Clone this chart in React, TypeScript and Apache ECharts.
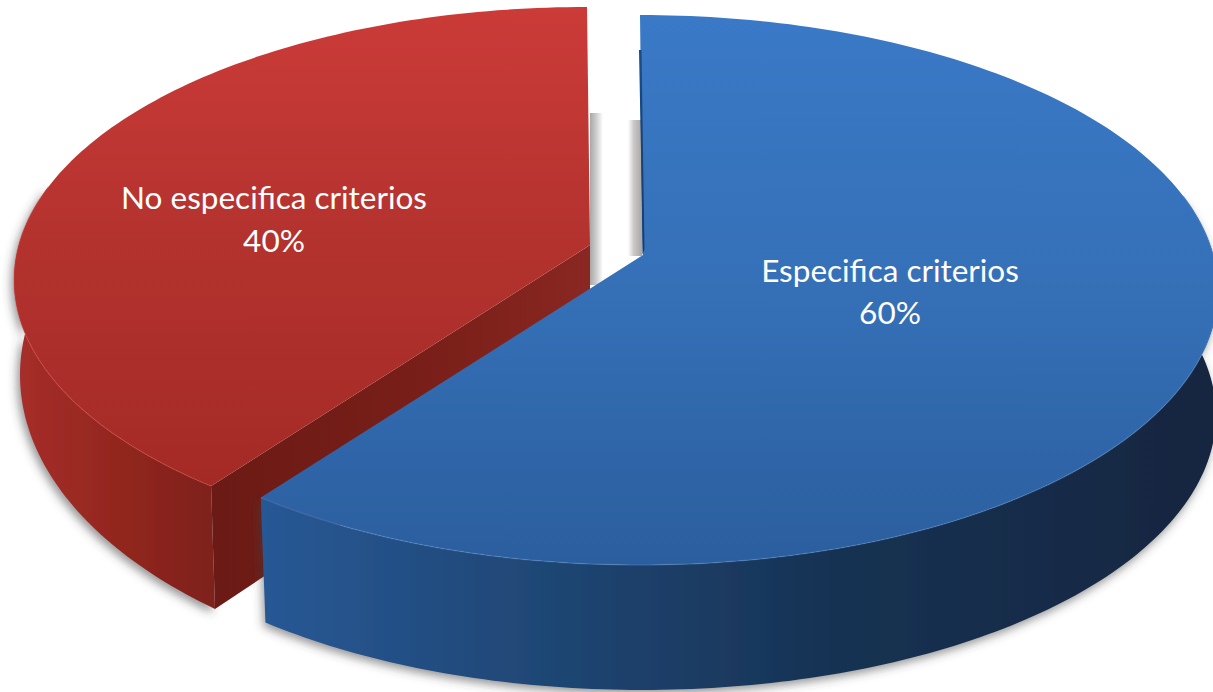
import React, { useEffect, useRef } from "react";
import * as echarts from "echarts";

const categories = ["No especifica criterios", "Especifica criterios"];
const values = [40, 60];
const percentLabels = ["40%", "60%"];

const WIDTH = 1213;
const HEIGHT = 692;
const PERSPECTIVE_SHIFT = 5; // degrees the cut moves because of the 3D view
const total = values[0] + values[1];
const cut = (values[1] / total) * 360 + PERSPECTIVE_SHIFT;

const LG = (x0: number, y0: number, x1: number, y1: number, stops: [number, string][]) =>
  new echarts.graphic.LinearGradient(x0, y0, x1, y1, stops.map(([offset, color]) => ({ offset, color })));

const sliceGeometry = [
  {
    sweep: [cut, 360],
    wallSweep: [cut, 290],
    top: { cx: 587, cy: 280, rx: 573, ry: 273 },
    low: { cx: 587, cy: 375, rx: 567, ry: 310 },
    apex: [590, 245],
    labelX: 274,
    labelY: [197, 240],
  },
  {
    sweep: [0, cut],
    wallSweep: [70, cut],
    top: { cx: 640, cy: 290, rx: 578, ry: 275 },
    low: { cx: 642, cy: 415, rx: 574, ry: 275 },
    apex: [643, 255],
    labelX: 890,
    labelY: [270, 312],
  },
];

const sliceColors = [
  {
    top: [[0, "#CB3B38"], [0.5, "#B3322E"], [1, "#A42A26"]] as [number, string][],
    wall: [[0, "#A72E2A"], [0.5, "#93271F"], [1, "#7E201B"]] as [number, string][],
    face: [[0, "#6B1A15"], [0.6, "#7A1F19"], [1, "#8A2722"]] as [number, string][],
    edge: "rgba(214,70,62,0.3)",
  },
  {
    top: [[0, "#3A79C7"], [0.5, "#3570B7"], [1, "#2B5E9E"]] as [number, string][],
    wall: [[0, "#285895"], [0.3, "#1F4674"], [0.6, "#173253"], [1, "#13263F"]] as [number, string][],
    face: [[0, "#174A85"], [1, "#143F73"]] as [number, string][],
    edge: "rgba(95,150,215,0.3)",
  },
];

type Ell = { cx: number; cy: number; rx: number; ry: number };
const pt = (e: Ell, deg: number): number[] => {
  const t = (deg * Math.PI) / 180;
  return [e.cx + e.rx * Math.sin(t), e.cy - e.ry * Math.cos(t)];
};
const arc = (e: Ell, from: number, to: number): number[][] => {
  const n = Math.max(2, Math.ceil(Math.abs(to - from)));
  const out: number[][] = [];
  for (let i = 0; i <= n; i++) out.push(pt(e, from + ((to - from) * i) / n));
  return out;
};

const renderSlice = (params: any, api: any) => {
  const i = params.dataIndex;
  api.value(0);
  const g = sliceGeometry[i];
  const c = sliceColors[i];
  const [a0, a1] = g.sweep;
  const [w0, w1] = g.wallSweep;
  const children: any[] = [];

  if (i === 0) {
    // soft shadows falling into the gap between the slices
    children.push({
      type: "rect",
      shape: { x: 590, y: 113, width: 13, height: 172 },
      style: { fill: LG(0, 0, 1, 0, [[0, "#A8A8A8"], [0.5, "#CFCFCF"], [1, "#FFFFFF"]]) },
    });
    children.push({
      type: "rect",
      shape: { x: 628, y: 120, width: 14, height: 136 },
      style: { fill: LG(0, 0, 1, 0, [[0, "#FFFFFF"], [0.4, "#CDC9C9"], [1, "#A9A5A5"]]) },
    });
  }

  // outer wall
  children.push({
    type: "polygon",
    shape: { points: [...arc(g.top, w0, w1), ...arc(g.low, w1, w0)] },
    style: {
      fill: LG(0, 0, 1, 0, c.wall),
      shadowBlur: 10,
      shadowColor: "rgba(60,60,60,0.55)",
      shadowOffsetX: i === 0 ? -3 : -2,
      shadowOffsetY: 4,
    },
  });

  // cut face
  const corner = pt(g.top, a0);
  const cornerLow = pt(g.low, a0);
  if (i === 0) {
    children.push({
      type: "polygon",
      shape: { points: [g.apex, corner, cornerLow, [g.apex[0], g.apex[1] + 115]] },
      style: { fill: LG(0, 0, 1, 0, c.face) },
    });
  } else {
    const start = pt(g.top, a0);
    children.push({
      type: "polygon",
      shape: { points: [[start[0] - 1, start[1] + 35], g.apex, [g.apex[0] + 1, g.apex[1] + 2], [start[0] + 2, start[1] + 35]] },
      style: { fill: LG(0, 0, 0, 1, c.face) },
    });
  }

  // top surface
  children.push({
    type: "polygon",
    shape: { points: [g.apex, ...arc(g.top, a0, a1)] },
    style: { fill: LG(0, 0, 0, 1, c.top) },
  });

  // blue slice's dark sliver sits on top of its own surface
  if (i === 1) {
    const start = pt(g.top, a0);
    children.push({
      type: "polygon",
      shape: { points: [[start[0], start[1] + 35], [g.apex[0] - 0.5, g.apex[1]], [g.apex[0] + 1.5, g.apex[1] - 6], [start[0] + 1.5, start[1] + 35]] },
      style: { fill: LG(0, 0, 0, 1, c.face) },
    });
  }

  // thin light rim along the front of the top surface
  children.push({
    type: "polyline",
    shape: { points: arc(g.top, Math.max(w0, a0), Math.min(w1, a1)) },
    style: { stroke: c.edge, lineWidth: 1.5, fill: "none" },
  });

  // labels
  const textStyle = {
    fill: "#FFFFFF",
    font: '31.5px Lato, "Noto Sans", sans-serif',
    align: "center",
    verticalAlign: "middle",
  };
  children.push({
    type: "text",
    x: g.labelX,
    y: g.labelY[0],
    style: { ...textStyle, text: categories[i] },
  });
  children.push({
    type: "text",
    x: g.labelX,
    y: g.labelY[1],
    style: { ...textStyle, text: percentLabels[i] },
  });

  return { type: "group", children };
};

export default function App() {
  const ref = useRef<HTMLDivElement>(null);
  useEffect(() => {
    const chart = echarts.init(ref.current!, undefined, { renderer: "svg" });
    chart.setOption({
      animation: false,
      backgroundColor: "#FFFFFF",
      series: [
        {
          type: "custom",
          coordinateSystem: "none",
          silent: true,
          clip: false,
          renderItem: renderSlice,
          data: values.map((v, i) => ({ name: categories[i], value: [v] })),
        },
      ],
    });
    return () => chart.dispose();
  }, []);
  return (
    <div
      ref={ref}
      style={{ position: "fixed", left: 0, top: 0, width: WIDTH, height: HEIGHT, overflow: "hidden" }}
    />
  );
}
